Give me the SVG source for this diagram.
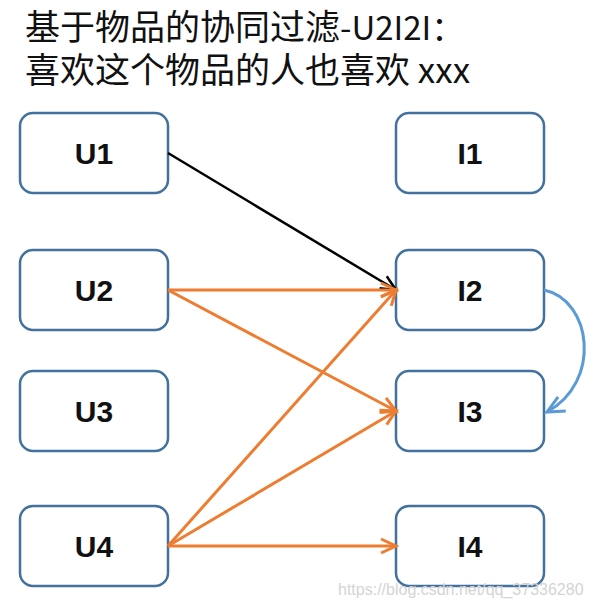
<svg xmlns="http://www.w3.org/2000/svg" width="591" height="607" viewBox="0 0 591 607">
<style>
.box{fill:#fff;stroke:#41719C;stroke-width:2.5}
.lbl{font-family:"Liberation Sans",Arial,sans-serif;font-weight:bold;font-size:30px;fill:#111;text-anchor:middle}
.title{font-family:"Noto Sans CJK SC","Noto Sans",sans-serif;font-size:35px;fill:#111}
.blk{stroke:#000;stroke-width:2.5;fill:none;marker-end:url(#ab)}
.org{stroke:#ED7D31;stroke-width:3;fill:none;marker-end:url(#ao)}
.blu{stroke:#5B9BD5;stroke-width:3;fill:none;marker-end:url(#au)}
.wm{font-family:"Liberation Sans",Arial,sans-serif;font-size:16px;fill:#d4d4d4}
</style>
<defs>
<marker id="ab" markerUnits="userSpaceOnUse" markerWidth="30" markerHeight="30" viewBox="-20 -15 30 30" refX="0" refY="0" orient="auto" overflow="visible"><path d="M-15,-7 L0,0 L-15,7" fill="none" stroke="#000" stroke-width="2.5"/></marker>
<marker id="ao" markerUnits="userSpaceOnUse" markerWidth="30" markerHeight="30" viewBox="-20 -15 30 30" refX="0" refY="0" orient="auto" overflow="visible"><path d="M-15,-7 L0,0 L-15,7" fill="none" stroke="#ED7D31" stroke-width="3"/></marker>
<marker id="au" markerUnits="userSpaceOnUse" markerWidth="30" markerHeight="30" viewBox="-20 -15 30 30" refX="0" refY="0" orient="auto" overflow="visible"><path d="M-17,-8 L0,0 L-17,8" fill="none" stroke="#5B9BD5" stroke-width="3"/></marker>
</defs>
<rect width="591" height="607" fill="#fff"/>
<g id="title">
<text class="title" x="25" y="40">基于物品的协同过滤<tspan font-size="33">-U2I2I：</tspan></text>
<text class="title" x="25" y="83">喜欢这个物品的人也喜欢 xxx</text>
</g>
<g id="U1"><rect class="box" x="20" y="113" width="148" height="80" rx="13"/><text class="lbl" x="94" y="164">U1</text></g>
<g id="U2"><rect class="box" x="20" y="250" width="148" height="80" rx="13"/><text class="lbl" x="94" y="301">U2</text></g>
<g id="U3"><rect class="box" x="20" y="371" width="148" height="80" rx="13"/><text class="lbl" x="94" y="422">U3</text></g>
<g id="U4"><rect class="box" x="20" y="506" width="148" height="80" rx="13"/><text class="lbl" x="94" y="557">U4</text></g>
<g id="I1"><rect class="box" x="396" y="113" width="148" height="80" rx="13"/><text class="lbl" x="470" y="164">I1</text></g>
<g id="I2"><rect class="box" x="396" y="250" width="148" height="80" rx="13"/><text class="lbl" x="470" y="301">I2</text></g>
<g id="I3"><rect class="box" x="396" y="371" width="148" height="80" rx="13"/><text class="lbl" x="470" y="422">I3</text></g>
<g id="I4"><rect class="box" x="396" y="506" width="148" height="80" rx="13"/><text class="lbl" x="470" y="557">I4</text></g>
<g id="connectors">
<line class="blk" x1="168" y1="153" x2="396" y2="290"/>
<line class="org" x1="168" y1="290" x2="396" y2="290"/>
<line class="org" x1="168" y1="290" x2="396" y2="411"/>
<line class="org" x1="168" y1="546" x2="396" y2="290"/>
<line class="org" x1="168" y1="546" x2="396" y2="411"/>
<line class="org" x1="168" y1="546" x2="396" y2="546"/>
<path class="blu" d="M544,290 C592,300 602,382 547,412"/>
</g>
<text class="wm" x="338" y="595">https://blog.csdn.net/qq_37336280</text>
</svg>
